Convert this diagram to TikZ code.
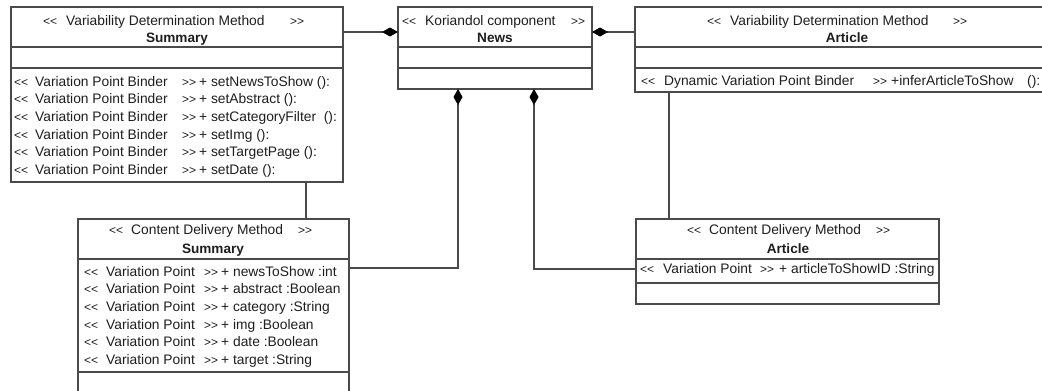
\documentclass[tikz,border=0pt]{standalone}
\usepackage{fontspec}
\setmainfont{Liberation Sans}[Ligatures=TeXOff]
\usetikzlibrary{arrows.meta}

\definecolor{edge}{HTML}{4A4A4A}
\definecolor{ink}{HTML}{1E1E1E}

% guillemet-like chevrons, a little smaller than the text
\newcommand\chev[1]{{\fontsize{12pt}{12pt}\selectfont #1}}
% << stereotype >> row placed at fixed column offsets
\newcommand\stereorow[5]{\makebox[#1][l]{\chev{<<}}\makebox[#2][l]{#4}\makebox[#3][l]{\chev{>>}}#5}

\tikzset{
  umlbox/.style={draw=edge, line width=1.2pt, fill=white, inner sep=0pt, outer sep=0pt, anchor=north west},
  sepline/.style={draw=edge, line width=1.2pt},
  link/.style={draw=edge, line width=1.2pt},
  comp/.style={link, -{Diamond[length=16pt,width=9pt,color=black]}},
  lbl/.style={font=\fontsize{13.8pt}{15pt}\selectfont, text=ink, inner sep=0pt,
              text height=9.8pt, text depth=1.4pt, anchor=west},
  cname/.style={lbl, font=\fontsize{13.6pt}{15pt}\selectfont\bfseries, anchor=center},
}

\begin{document}
\begin{tikzpicture}[x=1pt,y=-1pt]
\path[use as bounding box, fill=white] (0,0) rectangle (1042,391);
\clip (0,0) rectangle (1042,391);

% class boxes
\node[umlbox, minimum width=332pt, minimum height=175pt] (vdmS) at (11,7) {};
\node[umlbox, minimum width=194pt, minimum height=82pt] (news) at (398,7) {};
\node[umlbox, minimum width=424pt, minimum height=85pt] (vdmA) at (635,7) {};
\node[umlbox, minimum width=271pt, minimum height=180pt] (cdmS) at (78,219) {};
\node[umlbox, minimum width=303pt, minimum height=85pt] (cdmA) at (636,219) {};

% compartment separators
\foreach \b/\s in {vdmS/40, vdmS/61, news/40, news/61, vdmA/40, vdmA/61,
                   cdmS/40, cdmS/153, cdmA/40, cdmA/64}
  \draw[sepline] ([yshift=-\s pt]\b.north west) -- ([yshift=-\s pt]\b.north east);

% headers
\node[lbl] (vdmS-st) at (43,21) {\stereorow{23pt}{224pt}{0pt}{Variability Determination Method}{}};
\node[cname] (vdmS-nm) at (177,38) {Summary};
\node[lbl] (news-st) at (402,21) {\stereorow{23pt}{146pt}{0pt}{Koriandol component}{}};
\node[cname] (news-nm) at (495,38) {News};
\node[lbl] (vdmA-st) at (707,21) {\stereorow{23pt}{223pt}{0pt}{Variability Determination Method}{}};
\node[cname] (vdmA-nm) at (847,38) {Article};
\node[lbl] (cdmS-st) at (109,230) {\stereorow{22pt}{167pt}{0pt}{Content Delivery Method}{}};
\node[cname] (cdmS-nm) at (213,249) {Summary};
\node[lbl] (cdmA-st) at (687,230) {\stereorow{22pt}{167pt}{0pt}{Content Delivery Method}{}};
\node[cname] (cdmA-nm) at (788,249) {Article};

% operations and attributes
\foreach \m [count=\i from 0] in {setNewsToShow ():, setAbstract ():, setCategoryFilter\ \ ():,
                                 setImg ():, setTargetPage ():, setDate ():}
  \node[lbl] (vdmS-op\i) at (14,{82+17.6*\i}) {\stereorow{21pt}{147pt}{17pt}{Variation Point Binder}{+ \m}};

\foreach \a [count=\i from 0] in {newsToShow :int, abstract :Boolean, category :String,
                                 img :Boolean, date :Boolean, target :String}
  \node[lbl] (cdmS-at\i) at (84,{272+17.6*\i}) {\stereorow{22pt}{98pt}{17pt}{Variation Point}{+ \a}};

\node[lbl] (vdmA-op0) at (641,81) {\stereorow{23pt}{209pt}{18pt}{Dynamic Variation Point Binder}{\makebox[136pt][l]{+inferArticleToShow}():}};
\node[lbl] (cdmA-at0) at (640,269) {\stereorow{23pt}{97pt}{19pt}{Variation Point}{+ articleToShowID :String}};

% composition links
\draw[comp] ([yshift=-25pt]vdmS.north east) -- ([yshift=-25pt]news.north west);
\draw[comp] ([yshift=-25pt]vdmA.north west) -- ([yshift=-25pt]news.north east);
\draw[comp] ([yshift=-49pt]cdmS.north east) -| ([xshift=60pt]news.south west);
\draw[comp] ([yshift=-50pt]cdmA.north west) -| ([xshift=136pt]news.south west);

% method-to-content links
\draw[link] ([xshift=295pt]vdmS.south west) -- ([xshift=295pt]vdmS.south west |- cdmS.north);
\draw[link] ([xshift=34pt]vdmA.south west) -- ([xshift=34pt]vdmA.south west |- cdmA.north);
\end{tikzpicture}
\end{document}
